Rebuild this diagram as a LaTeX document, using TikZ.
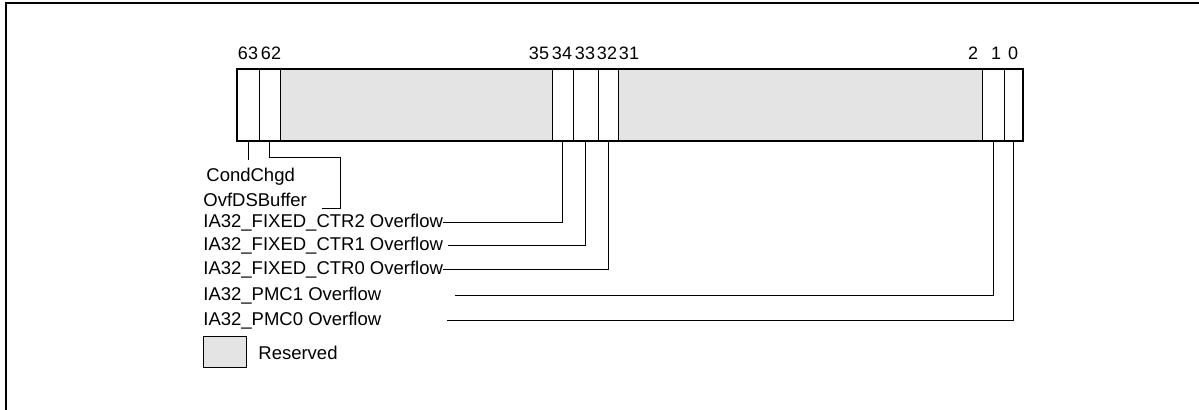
\documentclass[tikz,border=0pt]{standalone}
\usepackage{fontspec}
\setmainfont{Liberation Sans}
\usetikzlibrary{positioning, calc}
\definecolor{ResvGray}{HTML}{E4E4E4}

\begin{document}
\begin{tikzpicture}[
    x=0.5pt, y=-0.5pt,
    cell/.style={rectangle, draw, line width=0.5pt, minimum height=36pt, inner sep=0pt, outer sep=0pt},
    regbox/.style={draw, line width=1.3pt},
    bitnum/.style={font=\fontsize{9}{11}\selectfont, inner sep=0pt},
    fieldlab/.style={font=\fontsize{9.25}{11}\selectfont, anchor=west, inner sep=0pt},
    lead/.style={line width=0.5pt},
    frame/.style={line width=1.2pt}
]
  \useasboundingbox (0,0) rectangle (1199,410);
  % Frame
  \draw[frame] (6,410) -- (6,3) -- (1199,3);

  % Register cells
  \foreach \nm/\xa/\xb/\fl in {b63/237/259/white, b62/259/280/white, r61/280/552/ResvGray,
      b34/552/573/white, b33/573/598/white, b32/598/618/white, r31/618/982/ResvGray,
      b1/982/1004/white, b0/1004/1023/white}{
    \node[cell, fill=\fl, minimum width={(\xb-\xa)*0.5pt}] (\nm) at ({(\xa+\xb)/2},105) {};
  }
  \draw[regbox] (b63.north west) rectangle (b0.south east);

  % Bit numbers
  \foreach \n/\x in {63/248, 62/271, 35/539, 34/562, 33/585, 32/607, 31/629, 2/973, 1/996, 0/1013}{
    \node[bitnum] (n\n) at (\x,53) {\n};
  }

  % Field labels
  \node[fieldlab] (cc) at (206,177) {CondChgd};
  \node[fieldlab] (ovf) at (203,200) {OvfDSBuffer};
  \node[fieldlab] (ctr2) at (203,223) {IA32\_FIXED\_CTR2 Overflow};
  \node[fieldlab] (ctr1) at (203,246) {IA32\_FIXED\_CTR1 Overflow};
  \node[fieldlab] (ctr0) at (203,270) {IA32\_FIXED\_CTR0 Overflow};
  \node[fieldlab] (pmc1) at (203,296) {IA32\_PMC1 Overflow};
  \node[fieldlab] (pmc0) at (203,321) {IA32\_PMC0 Overflow};

  % Legend
  \node[cell, fill=ResvGray, minimum width=21.5pt, minimum height=15.5pt] (resv) at (224.5,352.5) {};
  \node[fieldlab, right=6pt of resv] (resvlab) {Reserved};

  % Leader lines
  \coordinate (ccend) at (250,160);
  \coordinate (ovfknee) at (340,158);
  \coordinate (ovfend) at (322,209);
  \coordinate (pmc1end) at (455,296);
  \coordinate (pmc0end) at (447,321);
  \draw[lead] (b63.south) -- (b63.south |- ccend);
  \draw[lead] (b62.south) |- (ovfknee) |- (ovfend);
  \draw[lead] (b34.south) |- (ctr2.east);
  \draw[lead] (b33.south) |- ([xshift=2.5pt]ctr1.east);
  \draw[lead] (b32.south) |- (ctr0.east);
  \draw[lead] (b1.south) |- (pmc1end);
  \draw[lead] (b0.south) |- (pmc0end);
\end{tikzpicture}
\end{document}
